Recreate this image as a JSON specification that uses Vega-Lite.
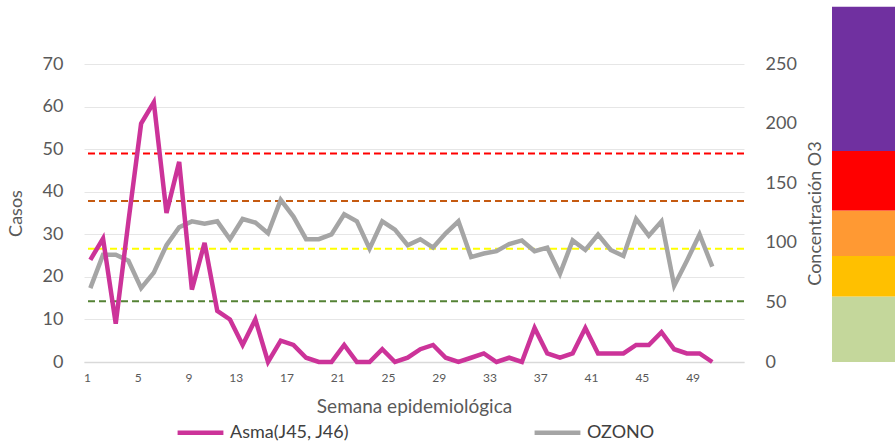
{
  "$schema": "https://vega.github.io/schema/vega-lite/v6.json",
  "background": "white",
  "padding": {"left": 7, "top": 6, "right": 0, "bottom": 0},
  "config": {
    "view": {"stroke": null},
    "font": "Lato",
    "axis": {"labelColor": "#595959", "titleColor": "#595959", "titleFontWeight": "normal", "labelFont": "Lato", "titleFont": "Lato"},
    "legend": {"labelFont": "Lato"}
  },
  "datasets": {
    "semanas": [
      {"semana": 1, "asma": 24, "ozono": 62},
      {"semana": 2, "asma": 29, "ozono": 90},
      {"semana": 3, "asma": 9, "ozono": 90},
      {"semana": 4, "asma": 33, "ozono": 85},
      {"semana": 5, "asma": 56, "ozono": 62},
      {"semana": 6, "asma": 61, "ozono": 75},
      {"semana": 7, "asma": 35, "ozono": 98},
      {"semana": 8, "asma": 47, "ozono": 113},
      {"semana": 9, "asma": 17, "ozono": 118},
      {"semana": 10, "asma": 28, "ozono": 116},
      {"semana": 11, "asma": 12, "ozono": 118},
      {"semana": 12, "asma": 10, "ozono": 103},
      {"semana": 13, "asma": 4, "ozono": 120},
      {"semana": 14, "asma": 10, "ozono": 117},
      {"semana": 15, "asma": 0, "ozono": 108},
      {"semana": 16, "asma": 5, "ozono": 136},
      {"semana": 17, "asma": 4, "ozono": 122},
      {"semana": 18, "asma": 1, "ozono": 103},
      {"semana": 19, "asma": 0, "ozono": 103},
      {"semana": 20, "asma": 0, "ozono": 107},
      {"semana": 21, "asma": 4, "ozono": 124},
      {"semana": 22, "asma": 0, "ozono": 118},
      {"semana": 23, "asma": 0, "ozono": 95},
      {"semana": 24, "asma": 3, "ozono": 118},
      {"semana": 25, "asma": 0, "ozono": 111},
      {"semana": 26, "asma": 1, "ozono": 98},
      {"semana": 27, "asma": 3, "ozono": 103},
      {"semana": 28, "asma": 4, "ozono": 96},
      {"semana": 29, "asma": 1, "ozono": 108},
      {"semana": 30, "asma": 0, "ozono": 118},
      {"semana": 31, "asma": 1, "ozono": 88},
      {"semana": 32, "asma": 2, "ozono": 91},
      {"semana": 33, "asma": 0, "ozono": 93},
      {"semana": 34, "asma": 1, "ozono": 99},
      {"semana": 35, "asma": 0, "ozono": 102},
      {"semana": 36, "asma": 8, "ozono": 93},
      {"semana": 37, "asma": 2, "ozono": 96},
      {"semana": 38, "asma": 1, "ozono": 74},
      {"semana": 39, "asma": 2, "ozono": 102},
      {"semana": 40, "asma": 8, "ozono": 94},
      {"semana": 41, "asma": 2, "ozono": 107},
      {"semana": 42, "asma": 2, "ozono": 94},
      {"semana": 43, "asma": 2, "ozono": 89},
      {"semana": 44, "asma": 4, "ozono": 120},
      {"semana": 45, "asma": 4, "ozono": 106},
      {"semana": 46, "asma": 7, "ozono": 118},
      {"semana": 47, "asma": 3, "ozono": 64},
      {"semana": 48, "asma": 2, "ozono": 85},
      {"semana": 49, "asma": 2, "ozono": 107},
      {"semana": 50, "asma": 0, "ozono": 80}
    ],
    "umbrales": [
      {"nivel": "Buena", "limite": 51},
      {"nivel": "Aceptable", "limite": 95},
      {"nivel": "Mala", "limite": 135},
      {"nivel": "Muy mala", "limite": 175}
    ],
    "bandas": [
      {"nivel": "Buena", "desde": 0, "hasta": 55},
      {"nivel": "Aceptable", "desde": 55, "hasta": 89},
      {"nivel": "Mala", "desde": 89, "hasta": 127},
      {"nivel": "Muy mala", "desde": 127, "hasta": 177},
      {"nivel": "Extremadamente mala", "desde": 177, "hasta": 298}
    ]
  },
  "bounds": "flush",
  "spacing": 88,
  "hconcat": [
    {
      "width": 660,
      "height": 298,
      "data": {"name": "semanas"},
      "layer": [
        {
          "layer": [
            {
              "data": {"name": "umbrales"},
              "mark": {"type": "rule", "strokeDash": [7, 4], "strokeWidth": 2},
              "encoding": {
                "y": {"field": "limite", "type": "quantitative", "scale": {"domain": [0, 250], "nice": false},
                  "axis": {"orient": "right", "title": "Concentración O3", "titleAngle": 270, "values": [0, 50, 100, 150, 200, 250], "grid": false, "domain": false, "ticks": false, "labelFontSize": 18, "titleFontSize": 18, "labelPadding": 21, "titlePadding": 28}},
                "stroke": {"field": "nivel", "type": "nominal", "legend": null,
                  "scale": {"domain": ["Buena", "Aceptable", "Mala", "Muy mala"], "range": ["#548235", "#FFFF00", "#C55A11", "#FF0000"]}}
              }
            },
            {
              "mark": {"type": "line", "strokeWidth": 4.5},
              "encoding": {
                "x": {"field": "semana", "type": "ordinal"},
                "y": {"field": "ozono", "type": "quantitative", "scale": {"domain": [0, 250], "nice": false},
                  "axis": {"orient": "right", "title": "Concentración O3", "titleAngle": 270, "values": [0, 50, 100, 150, 200, 250], "grid": false, "domain": false, "ticks": false, "labelFontSize": 18, "titleFontSize": 18, "labelPadding": 21, "titlePadding": 28}},
                "color": {"datum": "OZONO", "type": "nominal"}
              }
            }
          ]
        },
        {
          "mark": {"type": "line", "strokeWidth": 4.5},
          "encoding": {
            "x": {"field": "semana", "type": "ordinal",
              "scale": {"domain": [1,2,3,4,5,6,7,8,9,10,11,12,13,14,15,16,17,18,19,20,21,22,23,24,25,26,27,28,29,30,31,32,33,34,35,36,37,38,39,40,41,42,43,44,45,46,47,48,49,50,51,52]},
              "axis": {"title": "Semana epidemiológica", "values": [1,5,9,13,17,21,25,29,33,37,41,45,49], "labelAngle": 0, "ticks": false, "grid": false, "domain": true, "domainColor": "#d9d9d9", "domainWidth": 1.5, "labelFontSize": 12, "labelPadding": 15, "titleFontSize": 19, "titlePadding": 14}},
            "y": {"field": "asma", "type": "quantitative", "scale": {"domain": [0, 70], "nice": false},
              "axis": {"title": "Casos", "values": [0, 10, 20, 30, 40, 50, 60, 70], "grid": true, "gridColor": "#e6e6e6", "domain": false, "ticks": false, "labelFontSize": 18, "titleFontSize": 18, "labelPadding": 21, "titlePadding": 17}},
            "color": {"datum": "Asma(J45, J46)", "type": "nominal",
              "scale": {"domain": ["Asma(J45, J46)", "OZONO"], "range": ["#CC3399", "#A5A5A5"]},
              "legend": {"orient": "none", "legendX": 91, "legendY": 343, "direction": "horizontal", "title": null, "symbolType": "stroke", "symbolStrokeWidth": 4.5, "symbolSize": 2100, "labelFontSize": 18, "labelColor": "#404040", "columnPadding": 175, "labelOffset": 4}}
          }
        }
      ],
      "resolve": {"scale": {"y": "independent"}}
    },
    {
      "width": 65,
      "height": 298,
      "data": {"name": "bandas"},
      "mark": {"type": "rect", "clip": false},
      "encoding": {
        "y": {"field": "desde", "type": "quantitative", "scale": {"domain": [0, 250], "nice": false}, "axis": null},
        "y2": {"field": "hasta"},
        "fill": {"field": "nivel", "type": "nominal", "legend": null,
          "scale": {"domain": ["Buena", "Aceptable", "Mala", "Muy mala", "Extremadamente mala"], "range": ["#C4D79B", "#FFC000", "#FF9933", "#FF0000", "#7030A0"]}}
      }
    }
  ],
  "resolve": {"scale": {"fill": "independent", "stroke": "independent"}}
}
